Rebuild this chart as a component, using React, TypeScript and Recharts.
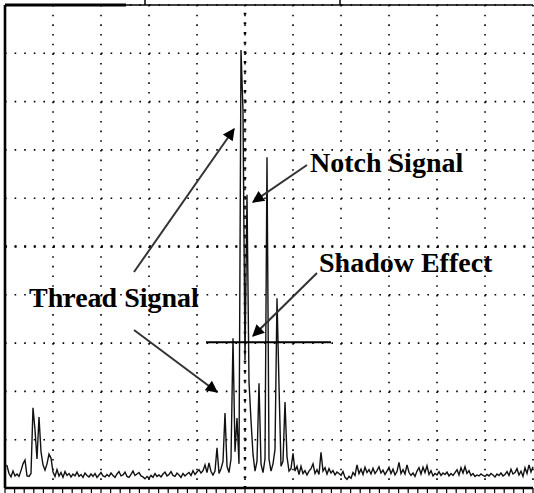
import React from "react";
import {
  LineChart,
  Line,
  XAxis,
  YAxis,
  CartesianGrid,
  ReferenceLine,
} from "recharts";

// A-scan amplitude, % of full screen height, one sample per time step
const amplitude = [
  4.8, 4.6, 3.0, 2.3, 3.5, 2.5, 2.9, 2.4, 3.6, 5.0,
  5.8, 2.5, 2.4, 3.0, 16.6, 12.0, 6.0, 14.7, 7.5, 4.8,
  3.7, 5.0, 7.0, 6.2, 3.3, 2.4, 3.8, 2.5, 3.2, 2.2,
  3.4, 2.6, 3.0, 2.3, 2.9, 2.5, 3.3, 2.4, 2.8, 2.2,
  3.1, 2.6, 2.3, 2.9, 2.4, 3.0, 2.2, 2.7, 3.2, 2.5,
  2.3, 2.8, 2.4, 3.1, 2.6, 2.2, 2.9, 3.4, 2.5, 2.7,
  3.3, 2.4, 2.2, 2.8, 3.5, 2.6, 2.9, 3.2, 2.5, 2.3,
  1.9, 2.4, 2.0, 2.6, 2.2, 3.0, 2.4, 2.7, 2.3, 2.9,
  3.3, 2.5, 2.8, 3.4, 2.6, 2.4, 3.1, 2.7, 2.2, 3.0,
  2.5, 2.9, 3.2, 2.6, 3.6, 2.8, 3.3, 3.8, 3.1, 3.6,
  4.8, 3.2, 5.2, 3.4, 2.7, 3.5, 8.3, 3.0, 4.0, 5.5,
  15.5, 4.5, 3.2, 6.0, 31.0, 7.5, 14.5, 5.0, 90.7, 78.0,
  26.5, 60.7, 22.0, 14.0, 7.0, 3.5, 5.5, 21.7, 5.0, 3.2,
  6.0, 68.5, 6.0, 3.5, 5.0, 8.0, 39.3, 21.3, 4.5, 5.5,
  17.8, 6.5, 3.5, 4.0, 7.2, 3.5, 4.5, 2.8, 4.5, 3.0,
  3.6, 2.7, 3.5, 4.0, 5.0, 3.0, 3.8, 2.8, 7.4, 3.5,
  4.2, 2.9, 4.0, 3.1, 3.6, 2.7, 3.3, 3.0, 2.6, 3.4,
  2.2, 1.8, 2.4, 2.0, 3.2, 2.6, 4.8, 3.0, 3.9, 2.8,
  4.3, 3.2, 3.8, 2.9, 4.1, 3.0, 3.6, 4.4, 3.1, 3.7,
  2.8, 3.5, 4.3, 3.0, 3.9, 2.7, 3.4, 5.3, 3.0, 3.8,
  2.9, 4.8, 3.2, 2.6, 3.1, 2.4, 3.5, 4.2, 2.9, 4.3,
  3.2, 4.6, 2.8, 3.6, 2.5, 3.0, 2.7, 3.4, 2.6, 3.1,
  2.8, 3.3, 2.5, 3.0, 2.6, 3.2, 3.8, 2.7, 4.2, 3.1,
  4.4, 3.0, 3.6, 2.6, 3.0, 2.4, 2.7, 2.5, 2.9, 2.6,
  2.4, 2.8, 2.5, 3.0, 2.7, 2.3, 2.9, 2.6, 3.1, 2.5,
  2.8, 3.4, 2.6, 3.9, 2.9, 3.2, 4.0, 2.7, 3.5, 2.4,
  4.2, 3.0, 4.8, 3.3, 4.4,
];

// screen divisions (time axis 0..264 samples, level 0..100 %)
const timeDivisions = [0, 24, 48, 72, 96, 120, 144, 168, 192, 216, 240, 264];
const levelDivisions = [0, 10, 20, 30, 40, 50, 60, 70, 80, 90, 100];
const minorTimeTicks = Array.from({ length: 56 }, (_, i) => i * 4.8);

// evaluation gate
const gateStart = 100.5;
const gateEnd = 163;
const gateLevel = 30.2;

const data = amplitude.map((a, t) => ({ t, a }));

const W = 534;
const H = 493;
const font = "'Liberation Serif', 'Times New Roman', serif";

export default function App() {
  return (
    <div
      style={{
        position: "absolute",
        left: 0,
        top: 0,
        width: W,
        height: H,
        background: "#fff",
        overflow: "hidden",
      }}
    >
      <LineChart
        width={W}
        height={H}
        data={data}
        margin={{ top: 5, right: 1, bottom: 0, left: 5 }}
      >
        <CartesianGrid
          horizontal={false}
          stroke="#000"
          strokeWidth={1.6}
          strokeDasharray="1.6 8.06"
        />
        <CartesianGrid
          vertical={false}
          stroke="#000"
          strokeWidth={1.6}
          strokeDasharray="1.6 8.0"
        />
        <XAxis
          dataKey="t"
          type="number"
          domain={[0, 264]}
          ticks={timeDivisions}
          interval={0}
          mirror
          height={0}
          axisLine={false}
          tickSize={5}
          tickLine={{ stroke: "#000", strokeWidth: 1.2 }}
          tickFormatter={() => ""}
        />
        <XAxis
          xAxisId="minor"
          dataKey="t"
          type="number"
          domain={[0, 264]}
          ticks={minorTimeTicks}
          interval={0}
          height={5}
          tickSize={5}
          axisLine={{ stroke: "#000", strokeWidth: 2.5 }}
          tickLine={{ stroke: "#000", strokeWidth: 1.2 }}
          tickFormatter={() => ""}
        />
        <YAxis hide type="number" domain={[0, 100]} ticks={levelDivisions} />

        {/* centre graticule axes */}
        <ReferenceLine y={50} stroke="#000" strokeWidth={2.4} strokeDasharray="2 7.6" />
        <ReferenceLine x={120} stroke="#000" strokeWidth={2.6} strokeDasharray="2 7.66" />

        {/* frame */}
        <ReferenceLine x={0} stroke="#000" strokeWidth={2.6} />
        <ReferenceLine y={100} stroke="#000" strokeWidth={1.6} />
        <ReferenceLine
          segment={[
            { x: 0, y: 100 },
            { x: 60.5, y: 100 },
          ]}
          stroke="#000"
          strokeWidth={3}
        />

        <Line
          type="linear"
          dataKey="a"
          stroke="#111"
          strokeWidth={1.4}
          dot={false}
          isAnimationActive={false}
        />

        <ReferenceLine
          segment={[
            { x: gateStart, y: gateLevel },
            { x: gateEnd, y: gateLevel },
          ]}
          stroke="#000"
          strokeWidth={2}
        />
      </LineChart>

      {/* annotations */}
      <svg
        width={W}
        height={H}
        style={{ position: "absolute", left: 0, top: 0, pointerEvents: "none" }}
      >
        <defs>
          <marker
            id="head"
            viewBox="0 0 10 10"
            refX="9"
            refY="5"
            markerWidth="16"
            markerHeight="12"
            markerUnits="userSpaceOnUse"
            orient="auto"
          >
            <path d="M0,0 L10,5 L0,10 z" fill="#000" />
          </marker>
        </defs>
        <line x1={145} y1={0} x2={145} y2={5} stroke="#000" strokeWidth={1.5} />
        <line x1={340} y1={0} x2={340} y2={5} stroke="#000" strokeWidth={1.5} />

        <g stroke="#333" strokeWidth={2} markerEnd="url(#head)">
          <line x1={134} y1={272} x2={234} y2={129} />
          <line x1={134} y1={330} x2={217} y2={392} />
          <line x1={307} y1={165} x2={253} y2={202} />
          <line x1={317} y1={273} x2={253} y2={336} />
        </g>

        <g fontFamily={font} fontWeight="bold" fontSize={28} fill="#000">
          <text x={310} y={172}>Notch Signal</text>
          <text x={319} y={272}>Shadow Effect</text>
          <text x={29} y={307}>Thread Signal</text>
        </g>
      </svg>
    </div>
  );
}
